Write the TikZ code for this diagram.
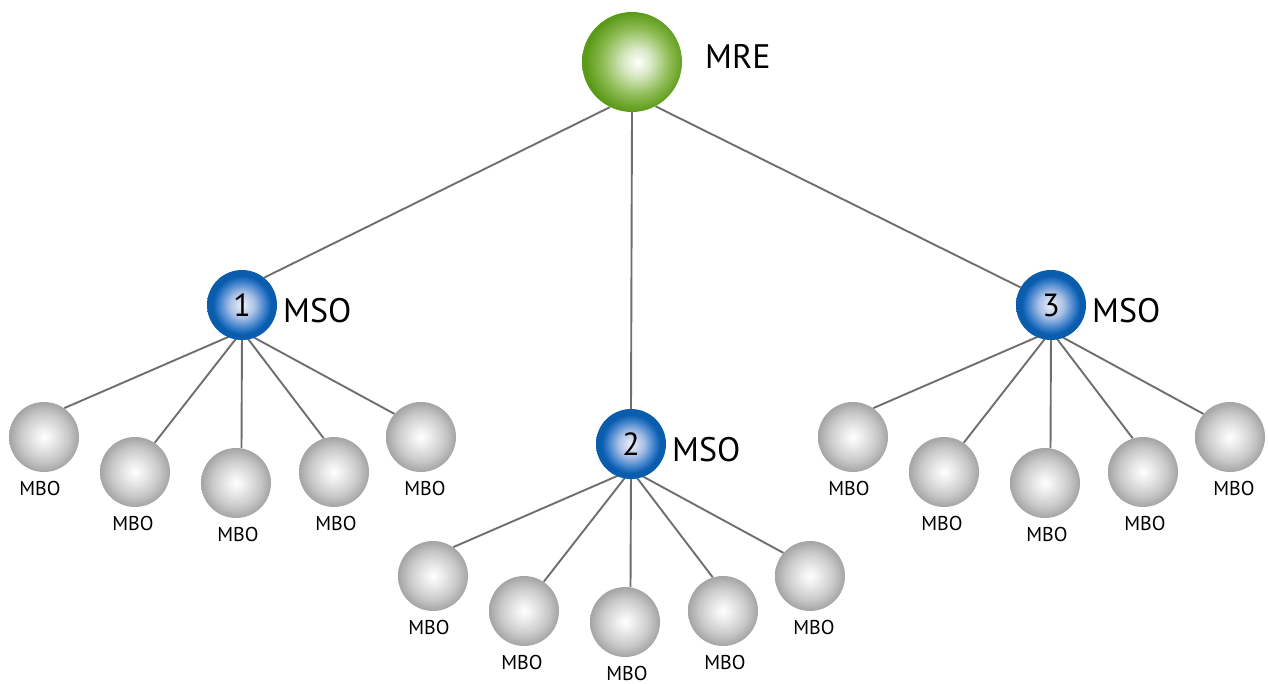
\documentclass[tikz,border=0pt]{standalone}
\usepackage{fontspec}
\setmainfont{PT Sans}
\definecolor{lineg}{HTML}{6E6E6E}
\definecolor{gr0}{HTML}{FFFFFF}
\definecolor{gr1}{HTML}{EEEEEE}
\definecolor{gr2}{HTML}{C9C9C9}
\definecolor{gr3}{HTML}{A4A4A4}
\definecolor{gn1}{HTML}{D8E8C4}
\definecolor{gn2}{HTML}{8DBB52}
\definecolor{gn3}{HTML}{5A9A18}
\definecolor{bl0}{HTML}{EEF2FA}
\definecolor{bl1}{HTML}{A9C0E6}
\definecolor{bl2}{HTML}{2A74C4}
\definecolor{bl3}{HTML}{0A5CAC}
\pgfdeclareradialshading{grayball}{\pgfpoint{0bp}{0bp}}{color(0bp)=(gr0); color(6bp)=(gr1); color(17bp)=(gr2); color(25bp)=(gr3); color(50bp)=(gr3)}
\pgfdeclareradialshading{greenball}{\pgfpoint{3bp}{0bp}}{color(0bp)=(gr0); color(7bp)=(gn1); color(17bp)=(gn2); color(25bp)=(gn3); color(50bp)=(gn3)}
\pgfdeclareradialshading{blueball}{\pgfpoint{0bp}{0bp}}{color(0bp)=(bl0); color(9bp)=(bl1); color(18bp)=(bl2); color(21bp)=(bl3); color(25bp)=(bl3); color(50bp)=(bl3)}
\pgfdeclarelayer{bg}
\pgfsetlayers{bg,main}
\begin{document}
\begin{tikzpicture}[x=1pt,y=-1pt,
  mbo/.style={circle, minimum size=70pt, inner sep=0pt, shade, shading=grayball},
  mso/.style={circle, minimum size=70pt, inner sep=0pt, shade, shading=blueball, font=\fontsize{32}{32}\selectfont},
  mre/.style={circle, minimum size=100pt, inner sep=0pt, shade, shading=greenball},
  lbl/.style={inner sep=0pt, font=\fontsize{20}{20}\selectfont},
  biglbl/.style={inner sep=0pt, anchor=west, font=\fontsize{34}{34}\selectfont},
  conn/.style={draw=lineg, line width=1.9pt}]
\useasboundingbox (0,0) rectangle (1268,684);
\node[mre] (mre) at (632,62) {};
\node[biglbl] (mretxt) at (705,56) {MRE};
\foreach \g/\cx/\cy in {1/242/305, 2/631/444, 3/1051/305} {
  \node[mso] (s\g) at (\cx,\cy) {\g};
  \coordinate (c\g) at (\cx,\cy+26);
  \node[biglbl] (t\g) at (\cx+41,\cy+6) {MSO};
  \foreach \i/\dx/\dy/\lx in {1/-198/132/-4, 2/-107/167/-2, 3/-6/178/2, 4/92/167/2, 5/179/132/4} {
    \node[mbo] (b\g\i) at (\cx+\dx,\cy+\dy) {};
    \node[lbl] (l\g\i) at (\cx+\dx+\lx,\cy+\dy+51) {MBO};
  }
}
\begin{pgfonlayer}{bg}
  \draw[conn] (mre.244) -- (s1.51);
  \draw[conn] (mre.south) -- (s2.north);
  \draw[conn] (mre.298) -- (s3.150);
  \foreach \g in {1,2,3} {
    \foreach \i/\a in {1/55, 2/56, 3/81, 4/107, 5/139} {
      \draw[conn] (c\g) -- (b\g\i.\a);
    }
  }
\end{pgfonlayer}
\end{tikzpicture}
\end{document}
